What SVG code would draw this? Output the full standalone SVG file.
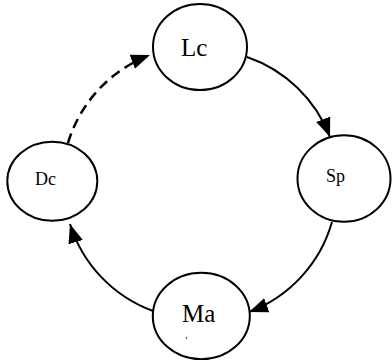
<svg xmlns="http://www.w3.org/2000/svg" width="392" height="360" viewBox="0 0 392 360">
<style>
.node ellipse{fill:#fff;stroke:#000;stroke-width:2}
.lbl{font-family:"Liberation Serif","Times New Roman",serif;fill:#000}
.edge{fill:none;stroke:#000;stroke-width:2}
.dash{stroke-width:2.5;stroke-dasharray:10,6}
</style>
<defs>
<marker id="arr" markerUnits="userSpaceOnUse" markerWidth="22" markerHeight="18" refX="19" refY="7.5" orient="auto">
<path d="M0,0 L19,7.5 L0,15 z" fill="#000" stroke="none"/>
</marker>
</defs>
<rect width="392" height="360" fill="#fff"/>
<g id="connectors">
<path class="edge" d="M247,57 A136,136 0 0 1 330,137" marker-end="url(#arr)"/>
<path class="edge" d="M332,222 A136,136 0 0 1 249,312" marker-end="url(#arr)"/>
<path class="edge" d="M153,311 A136,136 0 0 1 70,224" marker-end="url(#arr)"/>
<path class="edge dash" d="M68,143 A136,136 0 0 1 150,55" marker-end="url(#arr)"/>
</g>
<g id="Lc" class="node">
<ellipse cx="200" cy="47" rx="47" ry="43"/>
<text class="lbl" x="181" y="56" font-size="25">Lc</text>
</g>
<g id="Sp" class="node">
<ellipse cx="344" cy="178.5" rx="46.5" ry="43.3"/>
<text class="lbl" x="326" y="182" font-size="18">Sp</text>
</g>
<g id="Ma" class="node">
<ellipse cx="201.3" cy="316" rx="48.5" ry="43.3"/>
<text class="lbl" x="182" y="322" font-size="25">Ma</text>
<text class="lbl" x="185.5" y="344" font-size="10">'</text>
</g>
<g id="Dc" class="node">
<ellipse cx="52.3" cy="181.2" rx="45" ry="39.5"/>
<text class="lbl" x="35" y="185" font-size="18">Dc</text>
</g>
</svg>
